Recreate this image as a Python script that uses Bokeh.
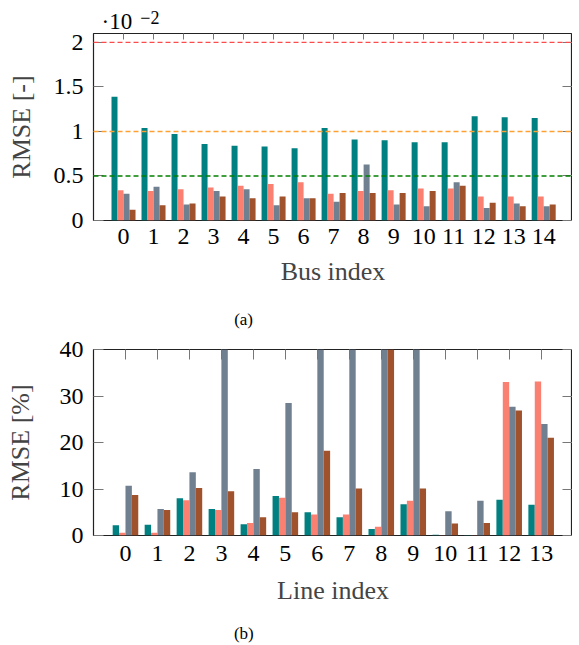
from bokeh.plotting import figure
from bokeh.models import (Range1d, FixedTicker, LinearAxis, Span,
                          ColumnDataSource, NumeralTickFormatter,
                          CustomJSTickFormatter, CustomLabelingPolicy)
from bokeh.layouts import column
from bokeh.transform import dodge
from bokeh.embed import file_html
from bokeh.resources import INLINE

# ---------------- data ----------------
bus_index = list(range(15))
bus_s1 = [1.39, 1.04, 0.97, 0.86, 0.84, 0.83, 0.81, 1.04, 0.91, 0.90, 0.88, 0.88, 1.17, 1.16, 1.15]
bus_s2 = [0.34, 0.33, 0.35, 0.37, 0.39, 0.41, 0.43, 0.30, 0.33, 0.34, 0.36, 0.36, 0.27, 0.27, 0.27]
bus_s3 = [0.30, 0.38, 0.18, 0.33, 0.35, 0.17, 0.25, 0.21, 0.63, 0.18, 0.16, 0.43, 0.14, 0.19, 0.16]
bus_s4 = [0.12, 0.17, 0.19, 0.27, 0.25, 0.27, 0.25, 0.31, 0.31, 0.31, 0.33, 0.39, 0.20, 0.16, 0.18]
bus_yticks = [0, 0.5, 1, 1.5, 2]
bus_thresholds = [2.0, 1.0, 0.5]

line_index = list(range(14))
line_s1 = [2.2, 2.3, 8.0, 5.7, 2.4, 8.5, 5.0, 3.9, 1.4, 6.7, 0.15, 0.1, 7.7, 6.6]
line_s2 = [0.6, 0.6, 7.6, 5.5, 2.7, 8.1, 4.5, 4.5, 1.9, 7.5, 0.05, 0.05, 33.0, 33.1]
line_s3 = [10.7, 5.7, 13.6, 52.0, 14.3, 28.5, 61.0, 48.0, 75.0, 55.0, 5.2, 7.5, 27.7, 24.0]
line_s4 = [8.7, 5.5, 10.2, 9.5, 3.9, 5.0, 18.2, 10.1, 44.0, 10.1, 2.6, 2.7, 26.9, 21.0]
line_yticks = [0, 10, 20, 30, 40]

colors = ["#008080", "#FA8072", "#708090", "#A0522D"]
offsets = [-0.3, -0.1, 0.1, 0.3]
threshold_colors = ["#FF4A4A", "#FFA030", "#008000"]

# annotation texts and where they sit along x (data units of each chart)
exp_base, exp_power = "·10", "−2"
exp_base_x, exp_power_x = -0.22, 0.88
caption_a, caption_a_x = "(a)", 4.0
caption_b, caption_b_x = "(b)", 3.7

FONT = "Liberation Serif"
TICK_COLOR = "#777777"

NO_LABELS = CustomLabelingPolicy(code="""
for (const i of [...indices]) indices.unset(i)
return indices
""")


def tick_only_axis(ticks, length):
    return LinearAxis(ticker=FixedTicker(ticks=ticks), major_tick_in=length, major_tick_out=0,
                      major_tick_line_color=TICK_COLOR, minor_tick_line_color=None,
                      axis_line_color=None, major_label_text_font_size="0px",
                      major_label_standoff=0, major_label_policy=NO_LABELS)


def text_axis(pos, text, size, standoff):
    return LinearAxis(ticker=FixedTicker(ticks=[pos]),
                      formatter=CustomJSTickFormatter(code="return %r" % text),
                      major_tick_in=0, major_tick_out=0, major_tick_line_color=None,
                      minor_tick_line_color=None, axis_line_color=None,
                      major_label_text_font=FONT, major_label_text_font_size=size,
                      major_label_text_color="black", major_label_standoff=standoff)


def make_fig(idx, series, xr, yr, yticks, ylabel, xlabel, frame_h, top_b, bottom_b,
             top_tick_len, label_standoff, tick_standoff, xlabel_standoff, fmt):
    p = figure(frame_width=479, frame_height=frame_h, x_range=Range1d(*xr),
               y_range=Range1d(*yr), output_backend="svg", toolbar_location=None,
               min_border_left=93, min_border_right=0, min_border_top=top_b,
               min_border_bottom=bottom_b)
    p.grid.visible = False
    p.outline_line_color = "#222222"
    p.outline_line_width = 1.2
    p.background_fill_color = "white"
    p.border_fill_color = "white"

    src = ColumnDataSource(dict(x=idx, s1=series[0], s2=series[1], s3=series[2], s4=series[3]))
    for k, (col, off) in enumerate(zip(colors, offsets)):
        p.vbar(x=dodge("x", off), top="s%d" % (k + 1), width=0.2, bottom=0,
               source=src, fill_color=col, line_color=None)

    xa = p.xaxis[0]
    xa.ticker = FixedTicker(ticks=idx)
    xa.major_tick_in = 0
    xa.major_tick_out = 0
    xa.minor_tick_line_color = None
    xa.axis_line_color = None
    xa.major_label_standoff = tick_standoff
    xa.major_label_text_font = FONT
    xa.major_label_text_font_size = "24px"
    xa.major_label_text_color = "black"
    xa.axis_label = xlabel
    xa.axis_label_text_font = FONT
    xa.axis_label_text_font_size = "26px"
    xa.axis_label_text_font_style = "normal"
    xa.axis_label_standoff = xlabel_standoff

    ya = p.yaxis[0]
    ya.ticker = FixedTicker(ticks=yticks)
    ya.formatter = fmt
    ya.major_tick_in = 10
    ya.major_tick_out = 0
    ya.major_tick_line_color = TICK_COLOR
    ya.minor_tick_line_color = None
    ya.axis_line_color = None
    ya.major_label_standoff = 10
    ya.major_label_text_font = FONT
    ya.major_label_text_font_size = "24px"
    ya.major_label_text_color = "black"
    ya.axis_label = ylabel
    ya.axis_label_text_font = FONT
    ya.axis_label_text_font_size = "26px"
    ya.axis_label_text_font_style = "normal"
    ya.axis_label_standoff = label_standoff

    p.add_layout(tick_only_axis(yticks, 10), "right")
    p.add_layout(tick_only_axis(idx, top_tick_len), "above")
    return p


p1 = make_fig(bus_index, [bus_s1, bus_s2, bus_s3, bus_s4], (-1, 14.96), (0, 2.1),
              bus_yticks, "RMSE [-]", "Bus index", 187, 33, 115, 6, 15, 8, 10,
              NumeralTickFormatter(format="0.[0]"))
for loc, col in zip(bus_thresholds, threshold_colors):
    p1.add_layout(Span(location=loc, dimension="width", line_color=col,
                       line_dash="5 3", line_width=1.4))
p1.add_layout(text_axis(exp_base_x, exp_base, "23px", 0), "above")
p1.add_layout(text_axis(exp_power_x, exp_power, "18px", -18), "above")
p1.add_layout(text_axis(caption_a_x, caption_a, "17px", 21), "below")

p2 = make_fig(line_index, [line_s1, line_s2, line_s3, line_s4], (-1, 13.98), (0, 40),
              line_yticks, "RMSE [%]", "Line index", 186, 14, 110, 10, 22, 10, 12,
              NumeralTickFormatter(format="0"))
p2.add_layout(text_axis(caption_b_x, caption_b, "17px", 16), "below")

layout = column(p1, p2, spacing=0)
open("out.html", "w").write(file_html(layout, INLINE))
